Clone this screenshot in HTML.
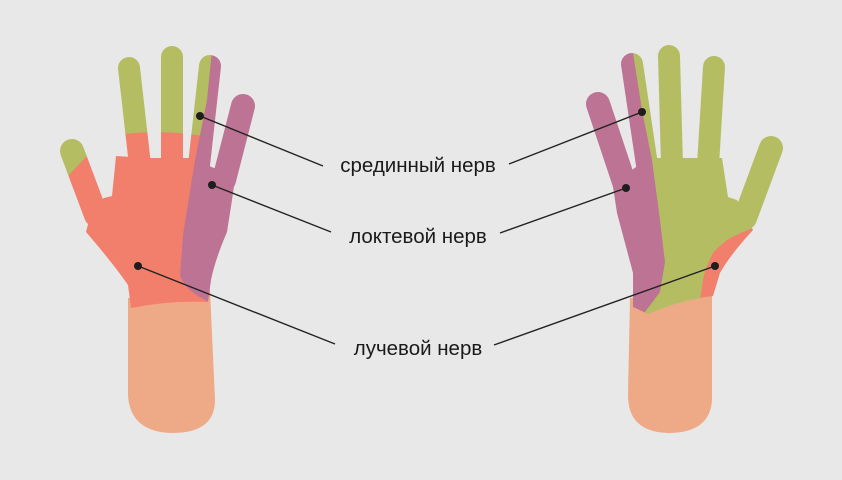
<!DOCTYPE html>
<html><head><meta charset="utf-8"><style>
html,body{margin:0;padding:0;background:#e8e8e8;}
svg{display:block}
text{font-family:"Liberation Sans","DejaVu Sans",sans-serif;font-size:20.5px;fill:#1a1a1a}
</style></head><body>
<svg width="842" height="480" viewBox="0 0 842 480" xmlns="http://www.w3.org/2000/svg">
<rect width="842" height="480" fill="#e8e8e8"/>
<defs>
<mask id="mL">
 <g stroke="#fff" stroke-linecap="round" fill="#fff">
  <line x1="129" y1="68" x2="140" y2="165" stroke-width="22"/>
  <line x1="172" y1="57" x2="172" y2="165" stroke-width="22"/>
  <line x1="210" y1="66" x2="199" y2="165" stroke-width="22"/>
  <line x1="243" y1="106" x2="224" y2="180" stroke-width="24"/>
  <line x1="72" y1="151" x2="96" y2="215" stroke-width="24"/>
  <path stroke="none" d="M116,156 L150,158 L190,158 L214,168 L236,172 L232,200 L227,232 Q215,260 211,280 L208,302 Q170,300 131,308 L128,285 Q112,262 86,232 L93,205 L104,198 L112,196 Z"/>
 </g>
</mask>
<mask id="mR">
 <g stroke="#fff" stroke-linecap="round" fill="#fff">
  <line x1="598" y1="104" x2="625" y2="185" stroke-width="24"/>
  <line x1="632" y1="64" x2="647" y2="165" stroke-width="22"/>
  <line x1="669" y1="56" x2="672" y2="165" stroke-width="22"/>
  <line x1="714" y1="67" x2="708" y2="165" stroke-width="22"/>
  <line x1="771" y1="148" x2="745" y2="218" stroke-width="24"/>
  <path stroke="none" d="M612,180 L632,170 L648,158 L722,158 L728,197 L737,200 L745,215 L753,230 Q730,255 720,273 L713,296 Q680,300 648,314 L633,307 L633,273 L617,213 Z"/>
 </g>
</mask>
</defs>
<path d="M128,298 L210,290 L215,400 Q215,433 172,433 Q130,432 128,395 Z" fill="#eea987"/>
<path d="M630,298 L712,292 L712,400 Q710,433 668,433 Q628,432 628,395 Z" fill="#eea987"/>
<g mask="url(#mL)">
 <rect x="0" y="0" width="300" height="320" fill="#f27f6b"/>
 <path d="M0,0 L215,0 L215,138 Q165,128 115,135 L0,135 Z" fill="#b5bd63"/>
 <polygon points="40,120 95,120 87,156 64,180 40,180" fill="#b5bd63"/>
 <path d="M213,40 L270,40 L270,300 L210,302 Q186,292 180,276 L183,235 L195,160 L207,100 Z" fill="#bd7393"/>
</g>
<g mask="url(#mR)">
 <rect x="560" y="0" width="260" height="320" fill="#b5bd63"/>
 <path d="M560,40 L631,40 L642,110 L652,160 L660,220 L665,262 L660,292 L642,316 L560,316 Z" fill="#bd7393"/>
 <path d="M760,220 L753,228 Q735,235 727,240 Q715,250 713,253 Q705,268 703,280 L700,300 L712,302 L720,272 L765,235 Z" fill="#f27f6b"/>
</g>
<g stroke="#222" stroke-width="1.4">
 <line x1="200" y1="116" x2="323" y2="166"/>
 <line x1="509" y1="164" x2="642" y2="112"/>
 <line x1="212" y1="185" x2="331" y2="232"/>
 <line x1="500" y1="233" x2="626" y2="188"/>
 <line x1="138" y1="266" x2="335" y2="344"/>
 <line x1="494" y1="345" x2="715" y2="266"/>
</g>
<g fill="#1e1e1e">
 <circle cx="200" cy="116" r="4"/><circle cx="212" cy="185" r="4"/><circle cx="138" cy="266" r="4"/>
 <circle cx="642" cy="112" r="4"/><circle cx="626" cy="188" r="4"/><circle cx="715" cy="266" r="4"/>
</g>
<text x="418" y="172" text-anchor="middle">срединный нерв</text>
<text x="418" y="243" text-anchor="middle">локтевой нерв</text>
<text x="418" y="355" text-anchor="middle">лучевой нерв</text>
</svg>
</body></html>
